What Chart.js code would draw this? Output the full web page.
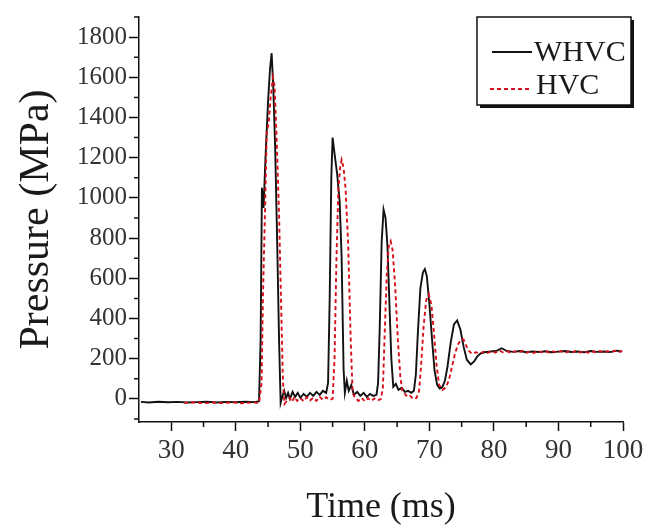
<!DOCTYPE html>
<html lang="en">
<head>
<meta charset="UTF-8">
<title>Pressure vs time</title>
<script src="https://cdn.jsdelivr.net/npm/chart.js"></script>
<style>
    html, body { margin: 0; padding: 0; background: #fff; }
    #wrap { width: 649px; height: 530px; }
</style>
</head>
<body>
<div id="wrap"><canvas id="myPressureChart" width="649" height="530"></canvas></div>
<script>
// series (time in ms, pressure in MPa)
var whvcTime = [25.3, 26.5, 28, 29.5, 31, 32.5, 34, 35.5, 37, 38.5, 40, 41.5, 43, 43.6, 43.85, 44.05, 44.3, 44.6, 45.0, 45.3,
    45.55, 45.8, 46.1, 46.4, 46.7, 46.95, 47.2, 47.5, 47.8, 48.1, 48.4, 48.8, 49.2, 49.6, 50.0, 50.5, 51.0, 51.5, 52.0, 52.5,
    53.0, 53.5, 54.0, 54.3, 54.55, 54.8, 55.0, 55.3, 55.7, 56.1, 56.4, 56.7, 56.9, 57.2, 57.5, 57.9, 58.3, 58.8, 59.3, 59.8,
    60.3, 60.8, 61.3, 61.8, 62.05, 62.3, 62.6, 62.9, 63.2, 63.5, 63.8, 64.1, 64.4, 64.8, 65.2, 65.7, 66.2, 66.7, 67.2, 67.6,
    67.9, 68.2, 68.6, 69.0, 69.3, 69.6, 70.0, 70.4, 70.8, 71.2, 71.6, 72.0, 72.4, 72.8, 73.3, 73.8, 74.3, 74.8, 75.3, 75.8,
    76.4, 76.9, 77.4, 77.9, 78.5, 79.5, 80.5, 81.2, 82, 83, 84, 85, 86, 87, 88, 89, 90, 91, 92, 93,
    94, 95, 96, 97, 98, 99, 99.8];
var whvcPressure = [-15, -18, -14, -17, -15, -18, -16, -14, -18, -15, -17, -14, -16, -12, 300, 1050, 950, 1200, 1480, 1640,
    1720, 1560, 1250, 800, 300, -20, 10, 40, 5, 30, 0, 35, 10, 30, 5, 25, 10, 30, 15, 35,
    20, 40, 30, 80, 500, 1100, 1300, 1220, 1120, 980, 700, 150, 30, 90, 40, 70, 20, 35, 15, 30,
    10, 25, 15, 20, 80, 350, 780, 942, 900, 760, 480, 200, 60, 75, 45, 55, 35, 40, 30, 40,
    120, 320, 550, 630, 646, 610, 470, 300, 140, 70, 52, 58, 90, 160, 280, 370, 390, 345, 260, 195,
    172, 185, 210, 225, 232, 236, 240, 252, 238, 234, 238, 232, 236, 233, 237, 232, 235, 238, 233, 236,
    232, 238, 234, 236, 233, 240, 236];

var hvcTime = [32, 33.5, 35, 36.5, 38, 39.5, 41, 42.5, 43.6, 44.0, 44.2, 44.5, 44.8, 45.1, 45.4, 45.75, 46.0, 46.3, 46.7, 47.0,
    47.3, 47.55, 47.9, 48.3, 48.7, 49.1, 49.5, 50.0, 50.5, 51.0, 51.5, 52.0, 52.5, 53.0, 53.5, 54.0, 54.5, 55.0, 55.3, 55.6,
    55.9, 56.2, 56.4, 56.7, 57.0, 57.4, 57.8, 58.1, 58.5, 59.0, 59.5, 60.0, 60.5, 61.0, 61.5, 62.0, 62.5, 62.8, 63.1, 63.4,
    63.7, 64.0, 64.3, 64.7, 65.1, 65.5, 65.8, 66.2, 66.6, 67.0, 67.5, 68.0, 68.4, 68.7, 69.1, 69.5, 69.9, 70.3, 70.7, 71.1,
    71.5, 72.0, 72.5, 73.0, 73.5, 74.0, 74.5, 75.0, 75.3, 75.7, 76.1, 76.6, 77.2, 77.8, 78.4, 79, 79.6, 80.2, 80.8, 81.4,
    82, 82.6, 83.2, 83.8, 84.4, 85, 85.6, 86.2, 86.8, 87.4, 88, 88.6, 89.2, 89.8, 90.4, 91, 91.6, 92.2, 92.8, 93.4,
    94, 94.6, 95.2, 95.8, 96.4, 97, 97.6, 98.2, 98.8, 99.4, 99.9];
var hvcPressure = [-20, -17, -22, -18, -21, -17, -22, -18, -20, 80, 500, 900, 1330, 1370, 1500, 1600, 1560, 1320, 920, 500,
    90, -25, -10, 5, -15, 10, -10, 5, -12, 8, -8, 6, -10, 10, -5, 8, -5, 0, 200, 700,
    1050, 1160, 1190, 1150, 1050, 780, 300, 30, 5, -10, 5, -12, 3, -10, 2, -8, 0, 60, 350, 620,
    760, 784, 740, 560, 300, 110, 40, 25, 10, 15, 0, 5, 40, 160, 360, 490, 520, 470, 330, 170,
    70, 45, 55, 90, 160, 230, 275, 298, 295, 265, 240, 224, 232, 226, 235, 228, 238, 230, 240, 232,
    238, 229, 236, 231, 239, 230, 236, 229, 237, 232, 238, 230, 236, 231, 238, 229, 236, 233, 239, 231,
    237, 230, 236, 232, 238, 231, 237, 233, 240, 234, 238];

var seriesLabels = ['WHVC', 'HVC'];
var seriesColors = ['#111111', '#d8101c'];

function toPoints(xs, ys) {
    return xs.map(function (x, i) { return { x: x, y: ys[i] }; });
}

var serif = 'Liberation Serif, Times New Roman, serif';

// short minor ticks (odd multiples) drawn through the scales
var minorTicks = {
    id: 'minorTicks',
    afterDraw: function (chart) {
        var ctx = chart.ctx;
        var xs = chart.scales.x, ys = chart.scales.y;
        ctx.save();
        ctx.strokeStyle = '#111';
        ctx.lineWidth = 1.5;
        ctx.beginPath();
        for (var v = 35; v < 100; v += 10) {
            var px = xs.getPixelForValue(v);
            ctx.moveTo(px, xs.top);
            ctx.lineTo(px, xs.top + 5);
        }
        for (var p = -100; p <= 1900; p += 200) {
            var py = ys.getPixelForValue(p);
            ctx.moveTo(ys.right, py);
            ctx.lineTo(ys.right - 5, py);
        }
        ctx.stroke();
        ctx.restore();
    }
};

// boxed legend with a drop shadow, top right
var boxLegend = {
    id: 'boxLegend',
    afterDraw: function (chart) {
        var ctx = chart.ctx;
        var x0 = 477, y0 = 17, w = 154, h = 88;
        ctx.save();
        ctx.fillStyle = '#111';
        ctx.fillRect(x0 + 3, y0 + 3, w, h);
        ctx.fillStyle = '#fff';
        ctx.fillRect(x0, y0, w, h);
        ctx.strokeStyle = '#111';
        ctx.lineWidth = 1.5;
        ctx.strokeRect(x0, y0, w, h);

        ctx.lineWidth = 1.8;
        ctx.strokeStyle = seriesColors[0];
        ctx.beginPath();
        ctx.moveTo(492, 52);
        ctx.lineTo(532, 52);
        ctx.stroke();

        ctx.strokeStyle = seriesColors[1];
        ctx.setLineDash([4, 3]);
        ctx.beginPath();
        ctx.moveTo(490, 89);
        ctx.lineTo(532, 89);
        ctx.stroke();
        ctx.setLineDash([]);

        ctx.fillStyle = '#1a1a1a';
        ctx.font = '30px ' + serif;
        ctx.textBaseline = 'middle';
        ctx.fillText(seriesLabels[0], 534, 53);
        ctx.fillText(seriesLabels[1], 536, 86);
        ctx.restore();
    }
};

var ctxPressure = document.getElementById('myPressureChart').getContext('2d');
var myPressureChart = new Chart(ctxPressure, {
    type: 'line',
    data: {
        datasets: [{
            label: seriesLabels[0],
            data: toPoints(whvcTime, whvcPressure),
            borderColor: seriesColors[0],
            borderWidth: 1.9,
            pointRadius: 0,
            tension: 0,
            order: 1
        }, {
            label: seriesLabels[1],
            data: toPoints(hvcTime, hvcPressure),
            borderColor: seriesColors[1],
            borderWidth: 1.9,
            borderDash: [4, 3],
            pointRadius: 0,
            tension: 0,
            order: 0
        }]
    },
    options: {
        responsive: false,
        animation: false,
        layout: { padding: { top: 14, right: 26, left: 0, bottom: 0 } },
        plugins: {
            legend: { display: false },
            tooltip: { enabled: false }
        },
        scales: {
            x: {
                type: 'linear',
                min: 25,
                max: 100,
                afterFit: function (scale) { scale.height = 108; },
                border: { display: true, color: '#111', width: 1.5 },
                grid: {
                    drawOnChartArea: false,
                    tickLength: 9,
                    tickWidth: 1.5,
                    tickColor: function (c) { return c.tick && c.tick.value % 10 === 0 && c.tick.value !== 25 ? '#111' : 'rgba(0,0,0,0)'; }
                },
                ticks: {
                    stepSize: 5,
                    autoSkip: false,
                    maxRotation: 0,
                    padding: 4,
                    color: '#333',
                    font: { family: serif, size: 27 },
                    callback: function (v) { return v % 10 === 0 && v !== 25 ? String(v) : ''; }
                },
                title: {
                    display: true,
                    text: 'Time (ms)',
                    color: '#1a1a1a',
                    font: { family: serif, size: 36, lineHeight: 1 },
                    padding: { top: 0, bottom: 4 }
                }
            },
            y: {
                min: -115,
                max: 1900,
                afterFit: function (scale) { scale.width = 139; },
                border: { display: true, color: '#111', width: 1.5 },
                grid: {
                    drawOnChartArea: false,
                    tickLength: 10,
                    tickWidth: 1.5,
                    tickColor: function (c) { return c.tick && c.tick.value % 200 === 0 ? '#111' : 'rgba(0,0,0,0)'; }
                },
                ticks: {
                    stepSize: 100,
                    autoSkip: false,
                    padding: 2,
                    color: '#333',
                    font: { family: serif, size: 25 },
                    callback: function (v) { return v % 200 === 0 && v <= 1800 ? String(v) : ''; }
                },
                title: {
                    display: true,
                    text: 'Pressure (MPa)',
                    color: '#1a1a1a',
                    font: { family: serif, size: 42 },
                    padding: { top: 12, bottom: 0 }
                }
            }
        }
    },
    plugins: [minorTicks, boxLegend]
});
</script>
</body>
</html>
